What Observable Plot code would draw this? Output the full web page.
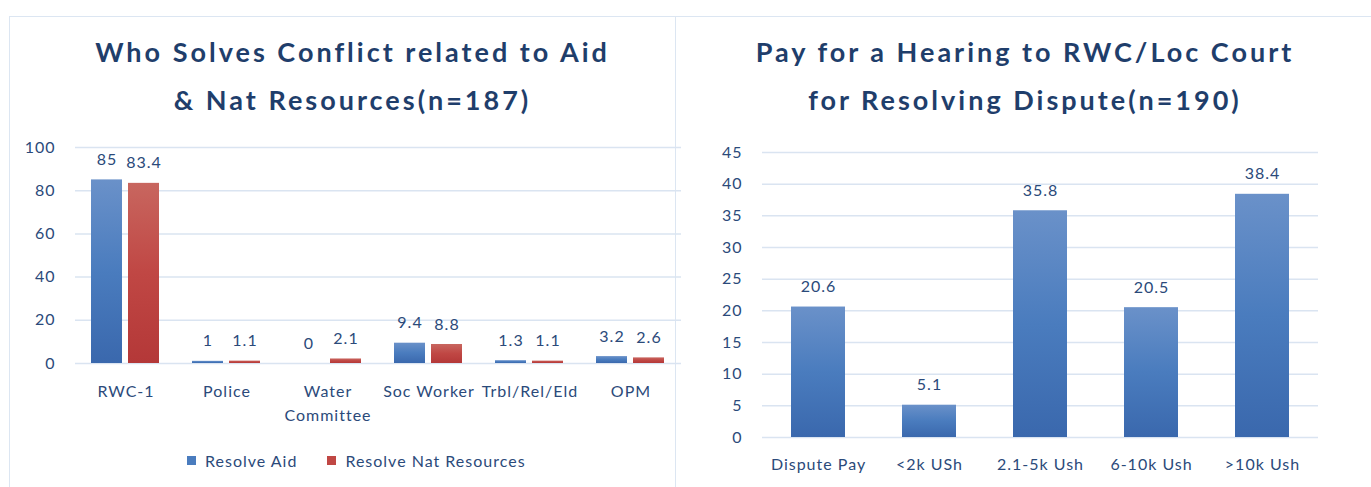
<!DOCTYPE html>
<html><head><meta charset="utf-8">
<script src="https://cdn.jsdelivr.net/npm/d3@7"></script>
<script src="https://cdn.jsdelivr.net/npm/@observablehq/plot@0.6"></script>
<style>
body{margin:0;background:#fff;width:1371px;height:487px;overflow:hidden;position:relative;font-family:Lato,"Open Sans",sans-serif;}
.panel{position:absolute;border:1.5px solid #dce6f2;box-sizing:border-box;}
.title{position:absolute;text-align:center;font-weight:700;font-size:27px;letter-spacing:3px;color:#1f3e6b;line-height:48px;white-space:nowrap;}
.chart{position:absolute;}
.chart svg text{letter-spacing:1px;}
.legend{position:absolute;font-size:16px;letter-spacing:1px;color:#2b4a7a;display:flex;align-items:center;}
.legend .sw{display:inline-block;width:9px;height:9px;margin-right:9px;}
</style>
</head><body>
<div class="panel" style="left:9px;top:16px;width:667px;height:490px"></div>
<div class="panel" style="left:675px;top:16px;width:710px;height:490px"></div>
<div class="title" id="t1" style="left:0;top:28px;width:705px"></div>
<div class="title" id="t2" style="left:680px;top:28px;width:690px"></div>
<div class="chart" id="c1" style="left:0;top:130px"></div>
<div class="chart" id="c2" style="left:680px;top:130px"></div>
<div class="legend" id="lg" style="left:187px;top:451px"></div>
<script>
// ---- Left chart data ----
const leftTitle = ["Who Solves Conflict related to Aid", "& Nat Resources(n=187)"];
const categories = ["RWC-1", "Police", "Water\nCommittee", "Soc Worker", "Trbl/Rel/Eld", "OPM"];
const seriesNames = ["Resolve Aid", "Resolve Nat Resources"];
const aidValues = [85, 1, 0, 9.4, 1.3, 3.2];
const natValues = [83.4, 1.1, 2.1, 8.8, 1.1, 2.6];
const leftTicks = [0, 20, 40, 60, 80, 100];

// ---- Right chart data ----
const rightTitle = ["Pay for a Hearing to RWC/Loc Court", "for Resolving Dispute(n=190)"];
const payCategories = ["Dispute Pay", "<2k USh", "2.1-5k Ush", "6-10k Ush", ">10k Ush"];
const payValues = [20.6, 5.1, 35.8, 20.5, 38.4];
const rightTicks = [0, 5, 10, 15, 20, 25, 30, 35, 40, 45];

document.getElementById("t1").innerHTML = leftTitle.join("<br>");
document.getElementById("t2").innerHTML = rightTitle.join("<br>");

const textColor = "#2b4a7a";
const gridColor = "#dae4f1";
const font = "Lato, 'Open Sans', sans-serif";

function addGradients(svg) {
  const defs = d3.select(svg).insert("defs", ":first-child");
  const g1 = defs.append("linearGradient").attr("id", "gBlue").attr("x1", 0).attr("y1", 0).attr("x2", 0).attr("y2", 1);
  g1.append("stop").attr("offset", "0%").attr("stop-color", "#6a91c9");
  g1.append("stop").attr("offset", "50%").attr("stop-color", "#4a7cbe");
  g1.append("stop").attr("offset", "100%").attr("stop-color", "#3a68ad");
  const g2 = defs.append("linearGradient").attr("id", "gRed").attr("x1", 0).attr("y1", 0).attr("x2", 0).attr("y2", 1);
  g2.append("stop").attr("offset", "0%").attr("stop-color", "#c8665f");
  g2.append("stop").attr("offset", "50%").attr("stop-color", "#c04744");
  g2.append("stop").attr("offset", "100%").attr("stop-color", "#b43838");
}

const rows = categories.flatMap((c, i) => [
  {category: c, series: seriesNames[0], value: aidValues[i]},
  {category: c, series: seriesNames[1], value: natValues[i]}
]);

const left = Plot.plot({
  width: 690, height: 310,
  marginLeft: 72, marginRight: 7, marginTop: 17, marginBottom: 77,
  style: {fontFamily: font, fontSize: "16px", color: textColor, background: "transparent"},
  fx: {domain: categories, padding: 0, label: null, axis: null},
  x: {domain: seriesNames, paddingInner: 0.158, paddingOuter: 0.42, axis: null},
  y: {domain: [0, 100], ticks: leftTicks, label: null, tickSize: 0, tickPadding: 20},
  color: {domain: seriesNames, range: ["url(#gBlue)", "url(#gRed)"]},
  marks: [
    Plot.ruleY(leftTicks, {stroke: gridColor, strokeWidth: 1.5}),
    Plot.barY(rows, {fx: "category", x: "series", y: "value", fill: "series"}),
    Plot.text(rows, {fx: "category", x: "series", y: "value", text: d => String(d.value), dy: -20, fill: textColor, fontSize: 16}),
    Plot.axisFx({anchor: "bottom", tickSize: 0, tickPadding: 16, lineHeight: 1.5, label: null, fill: textColor})
  ]
});
addGradients(left);
document.getElementById("c1").appendChild(left);

const payRows = payCategories.map((c, i) => ({category: c, value: payValues[i]}));
const right = Plot.plot({
  width: 691, height: 360,
  marginLeft: 82, marginRight: 53, marginTop: 22, marginBottom: 53,
  style: {fontFamily: font, fontSize: "16px", color: textColor, background: "transparent"},
  x: {domain: payCategories, paddingInner: 0.51, paddingOuter: 0.255, label: null, tickSize: 0, tickPadding: 21},
  y: {domain: [0, 45], ticks: rightTicks, label: null, tickSize: 0, tickPadding: 20},
  marks: [
    Plot.ruleY(rightTicks, {stroke: gridColor, strokeWidth: 1.5}),
    Plot.barY(payRows, {x: "category", y: "value", fill: "url(#gBlue)"}),
    Plot.text(payRows, {x: "category", y: "value", text: d => String(d.value), dy: -20, fill: textColor, fontSize: 16})
  ]
});
addGradients(right);
document.getElementById("c2").appendChild(right);

const lg = document.getElementById("lg");
const swColors = ["#4a7cbe", "#c04744"];
seriesNames.forEach((s, i) => {
  const item = document.createElement("span");
  item.style.display = "inline-flex";
  item.style.alignItems = "center";
  item.style.marginRight = i === 0 ? "30px" : "0";
  item.innerHTML = `<span class="sw" style="background:${swColors[i]}"></span>${s}`;
  lg.appendChild(item);
});
</script>
</body></html>
